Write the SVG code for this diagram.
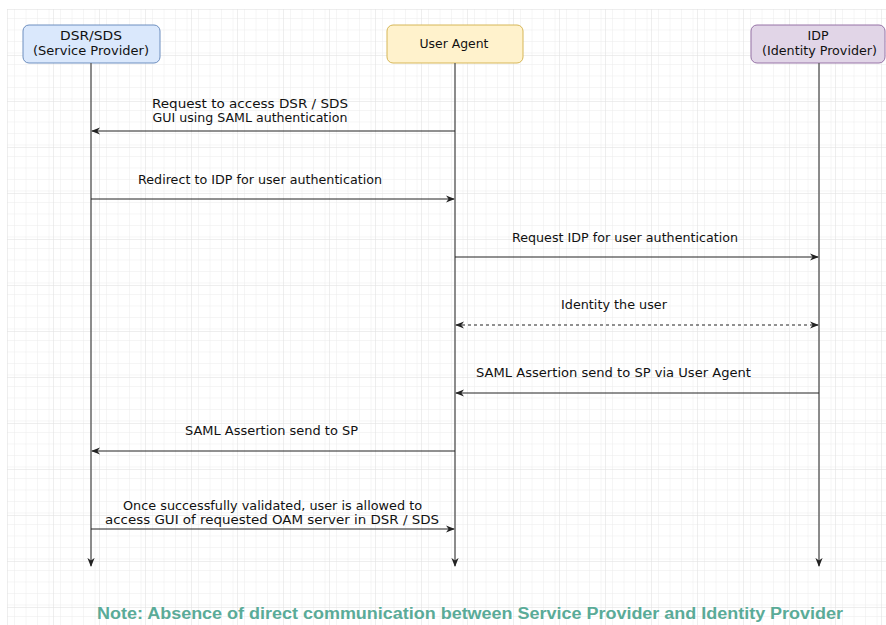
<svg xmlns="http://www.w3.org/2000/svg" width="886" height="625" viewBox="0 0 886 625">
<defs>
<pattern id="gridMinor" x="7" y="9" width="11.5" height="11.5" patternUnits="userSpaceOnUse">
<path d="M 11.5 0 L 0 0 0 11.5" fill="none" stroke="#ececec" stroke-width="1"/>
</pattern>
<pattern id="gridMajor" x="7" y="9" width="46" height="46" patternUnits="userSpaceOnUse">
<rect width="46" height="46" fill="url(#gridMinor)"/>
<path d="M 46 0 L 0 0 0 46" fill="none" stroke="#dedede" stroke-width="1"/>
</pattern>
<marker id="arr" viewBox="0 0 10 10" refX="9" refY="5" markerWidth="9" markerHeight="9" markerUnits="userSpaceOnUse" orient="auto-start-reverse">
<path d="M0,1 L10,5 L0,9 L3,5 Z" fill="#222"/>
</marker>
</defs>
<style>
.lbl{font-family:"DejaVu Sans",Verdana,sans-serif;font-size:11.5px;fill:#111;text-anchor:middle}
.life{stroke:#666;stroke-width:1.5;fill:none}
.msg{stroke:#222;stroke-width:1;fill:none}
.dash{stroke-dasharray:3,3}
.box{stroke-width:1}
</style>
<rect width="886" height="625" fill="#fff"/>
<rect x="7" y="9" width="879" height="616" fill="url(#gridMajor)"/>

<g id="node-dsr">
<rect class="box" x="23" y="25" width="137" height="38" rx="6" fill="#dae8fc" stroke="#6c8ebf"/>
<text class="lbl" x="91" y="40" textLength="62" lengthAdjust="spacingAndGlyphs">DSR/SDS</text>
<text class="lbl" x="91" y="55" textLength="116" lengthAdjust="spacingAndGlyphs">(Service Provider)</text>
</g>
<g id="node-ua">
<rect class="box" x="387" y="25" width="136" height="38" rx="6" fill="#fff2cc" stroke="#d6b656"/>
<text class="lbl" x="454" y="48" textLength="69" lengthAdjust="spacingAndGlyphs">User Agent</text>
</g>
<g id="node-idp">
<rect class="box" x="751" y="25" width="134" height="38" rx="6" fill="#e1d5e7" stroke="#9673a6"/>
<text class="lbl" x="818" y="40" textLength="21" lengthAdjust="spacingAndGlyphs">IDP</text>
<text class="lbl" x="819.5" y="55" textLength="115" lengthAdjust="spacingAndGlyphs">(Identity Provider)</text>
</g>

<g id="connectors">
<line class="life" x1="91" y1="63" x2="91" y2="566" marker-end="url(#arr)"/>
<line class="life" x1="455" y1="63" x2="455" y2="566" marker-end="url(#arr)"/>
<line class="life" x1="819" y1="63" x2="819" y2="566" marker-end="url(#arr)"/>

<line class="msg" x1="455" y1="131" x2="92" y2="131" marker-end="url(#arr)"/>
<line class="msg" x1="91" y1="199" x2="454" y2="199" marker-end="url(#arr)"/>
<line class="msg" x1="455" y1="257" x2="818" y2="257" marker-end="url(#arr)"/>
<line class="msg dash" x1="456" y1="325" x2="818" y2="325" marker-start="url(#arr)" marker-end="url(#arr)"/>
<line class="msg" x1="819" y1="393" x2="456" y2="393" marker-end="url(#arr)"/>
<line class="msg" x1="455" y1="451" x2="92" y2="451" marker-end="url(#arr)"/>
<line class="msg" x1="91" y1="529" x2="454" y2="529" marker-end="url(#arr)"/>

<text class="lbl" x="250" y="108" textLength="196" lengthAdjust="spacingAndGlyphs">Request to access DSR / SDS</text>
<text class="lbl" x="250" y="122" textLength="195" lengthAdjust="spacingAndGlyphs">GUI using SAML authentication</text>
<text class="lbl" x="260" y="184" textLength="244" lengthAdjust="spacingAndGlyphs">Redirect to IDP for user authentication</text>
<text class="lbl" x="625" y="242" textLength="226" lengthAdjust="spacingAndGlyphs">Request IDP for user authentication</text>
<text class="lbl" x="614" y="309" textLength="106" lengthAdjust="spacingAndGlyphs">Identity the user</text>
<text class="lbl" x="613.5" y="377" textLength="275" lengthAdjust="spacingAndGlyphs">SAML Assertion send to SP via User Agent</text>
<text class="lbl" x="271.5" y="435" textLength="173" lengthAdjust="spacingAndGlyphs">SAML Assertion send to SP</text>
<text class="lbl" x="272.5" y="510" textLength="299" lengthAdjust="spacingAndGlyphs">Once successfully validated, user is allowed to</text>
<text class="lbl" x="272" y="524" textLength="334" lengthAdjust="spacingAndGlyphs">access GUI of requested OAM server in DSR / SDS</text>
</g>

<text x="470" y="619" text-anchor="middle" font-family="'Liberation Sans Narrow','Liberation Sans',Arial,sans-serif" font-weight="bold" font-size="16" fill="#5aab98" textLength="746" lengthAdjust="spacingAndGlyphs">Note: Absence of direct communication between Service Provider and Identity Provider</text>
</svg>
